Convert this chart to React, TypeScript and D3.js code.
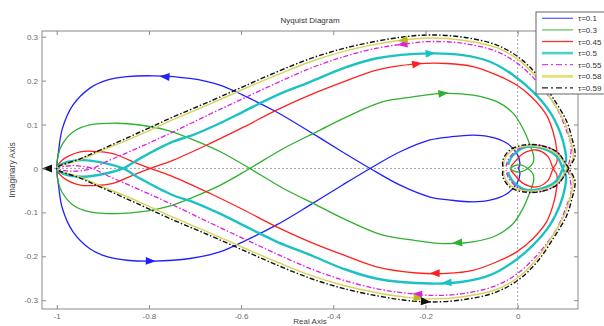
import React, { useRef, useEffect } from "react";
import * as d3 from "d3";

// legend labels / styles order
const tauLabels = ["τ=0.1", "τ=0.3", "τ=0.45", "τ=0.5", "τ=0.55", "τ=0.58", "τ=0.59"];

// one branch of every curve (the other branch is its mirror across the real axis)
const blueX = [-1, -0.996, -0.988, -0.965, -0.928, -0.891, -0.848, -0.79, -0.711, -0.646, -0.596, -0.522, -0.45, -0.379, -0.32, -0.255, -0.19, -0.146, -0.097, -0.06, -0.024, -0.002, 0.005, 0.002];
const blueY = [0, -0.04, -0.09, -0.144, -0.183, -0.201, -0.209, -0.211, -0.205, -0.19, -0.167, -0.128, -0.083, -0.037, 0, 0.038, 0.065, 0.072, 0.076, 0.072, 0.058, 0.035, 0.012, 0];

const greenX = [-1, -0.997, -0.989, -0.965, -0.928, -0.869, -0.819, -0.76, -0.71, -0.645, -0.581, -0.509, -0.435, -0.364, -0.292, -0.227, -0.162, -0.097, -0.045, -0.01, 0.011, 0.027, 0.035, 0.033, 0.022, 0.007, -0.008, -0.017];
const greenY = [0, -0.03, -0.053, -0.083, -0.099, -0.103, -0.099, -0.087, -0.068, -0.038, 0, 0.045, 0.084, 0.121, 0.152, 0.163, 0.171, 0.167, 0.152, 0.126, 0.092, 0.053, 0.026, 0.012, 0, -0.008, -0.006, 0];

const redX = [-1, -0.993, -0.977, -0.949, -0.921, -0.878, -0.834, -0.797, -0.747, -0.667, -0.595, -0.523, -0.451, -0.378, -0.306, -0.219, -0.154, -0.097, -0.046, -0.002, 0.033, 0.063, 0.077, 0.085, 0.085, 0.077, 0.066, 0.041, 0.012, -0.006, -0.015];
const redY = [0, -0.014, -0.027, -0.038, -0.039, -0.034, -0.015, 0, 0.019, 0.057, 0.094, 0.133, 0.167, 0.197, 0.224, 0.238, 0.239, 0.232, 0.213, 0.19, 0.16, 0.121, 0.083, 0.042, 0.014, 0, -0.027, -0.042, -0.034, -0.015, -0.004];

const cyanX = [-1, -0.993, -0.977, -0.943, -0.891, -0.856, -0.819, -0.748, -0.705, -0.646, -0.596, -0.522, -0.45, -0.379, -0.305, -0.19, -0.119, -0.06, -0.01, 0.033, 0.07, 0.092, 0.103, 0.105, 0.098, 0.085, 0.055, 0.02, -0.01, -0.021];
const cyanY = [0, -0.008, -0.015, -0.019, -0.011, 0, 0.023, 0.061, 0.076, 0.103, 0.129, 0.167, 0.197, 0.228, 0.251, 0.262, 0.258, 0.243, 0.213, 0.175, 0.129, 0.083, 0.042, 0.019, 0, -0.027, -0.045, -0.049, -0.03, -0.008];

const magentaX = [-1, -0.982, -0.954, -0.923, -0.891, -0.819, -0.748, -0.667, -0.596, -0.522, -0.45, -0.379, -0.305, -0.249, -0.19, -0.119, -0.045, 0.005, 0.048, 0.085, 0.107, 0.116, 0.113, 0.107, 0.092, 0.064, 0.027, -0.002, -0.021, -0.025];
const magentaY = [0, -0.005, -0.006, 0, 0.016, 0.049, 0.083, 0.124, 0.159, 0.195, 0.228, 0.254, 0.274, 0.283, 0.289, 0.285, 0.266, 0.235, 0.19, 0.137, 0.083, 0.053, 0.019, 0, -0.03, -0.049, -0.053, -0.042, -0.019, -0.004];

const yellowX = [-1, -0.949, -0.906, -0.819, -0.748, -0.667, -0.596, -0.522, -0.45, -0.379, -0.305, -0.244, -0.19, -0.119, -0.045, 0.005, 0.04, 0.074, 0.103, 0.114, 0.12, 0.12, 0.108, 0.095, 0.082, 0.046, 0.011, -0.015, -0.029, -0.03];
const yellowY = [0, 0.02, 0.039, 0.077, 0.111, 0.147, 0.18, 0.213, 0.243, 0.266, 0.283, 0.293, 0.297, 0.292, 0.275, 0.245, 0.208, 0.156, 0.103, 0.066, 0.04, 0.024, 0, -0.021, -0.036, -0.05, -0.05, -0.039, -0.018, -0.004];

const blackX = [-1, -0.949, -0.906, -0.819, -0.748, -0.667, -0.596, -0.522, -0.45, -0.379, -0.305, -0.244, -0.19, -0.119, -0.045, 0.005, 0.042, 0.077, 0.107, 0.118, 0.124, 0.124, 0.111, 0.098, 0.085, 0.048, 0.011, -0.017, -0.032, -0.032];
const blackY = [0, 0.022, 0.042, 0.083, 0.117, 0.153, 0.186, 0.22, 0.25, 0.273, 0.29, 0.3, 0.304, 0.299, 0.281, 0.251, 0.213, 0.16, 0.106, 0.068, 0.042, 0.026, 0, -0.022, -0.038, -0.053, -0.053, -0.042, -0.019, -0.004];

// arrow heads: which curve, where, and which way (+1 right, -1 left)
const arrowCurve = [0, 0, 1, 1, 2, 2, 3, 3, 4, 4, 5, 5, 6, 6];
const arrowX = [-0.765, -0.797, -0.162, -0.13, -0.219, -0.179, -0.19, -0.153, -0.249, -0.217, -0.249, -0.216, -0.2, -1.02];
const arrowY = [0.211, -0.209, 0.171, -0.171, 0.238, -0.243, 0.262, -0.262, 0.283, -0.285, 0.297, -0.297, -0.304, 0];
const arrowDir = [-1, 1, 1, -1, 1, -1, 1, -1, -1, -1, -1, 1, 1, -1];

const xTicks = [-1, -0.8, -0.6, -0.4, -0.2, 0];
const yTicks = [-0.3, -0.2, -0.1, 0, 0.1, 0.2, 0.3];

const branchesX = [blueX, greenX, redX, cyanX, magentaX, yellowX, blackX];
const branchesY = [blueY, greenY, redY, cyanY, magentaY, yellowY, blackY];

const colors = ["#2020ff", "#2fb02f", "#ff2020", "#1cc2c2", "#e020e0", "#d4d45a", "#111111"];
const widths = [1.3, 1.3, 1.3, 2.4, 1.3, 1.4, 1.4];
const dashes = [null, null, null, null, "5,2,1.5,2", null, "5,2,1.5,2"];
const legendWidths = [1.3, 1.3, 1.3, 2.6, 1.3, 3, 1.4];
const legendColors = ["#6060ff", "#5cc85c", "#ff3030", "#4cd0d0", "#e040e0", "#e2e27a", "#222"];

const FONT = "'Liberation Sans', Arial, sans-serif";

export default function App() {
  const svgRef = useRef<SVGSVGElement>(null);

  useEffect(() => {
    const svg = d3.select(svgRef.current);
    svg.selectAll("*").remove();

    const left = 42, right = 578, top = 31, bottom = 309;
    const x = d3.scaleLinear().domain([-1.032, 0.131]).range([left, right]);
    const y = d3.scaleLinear().domain([-0.32, 0.313]).range([bottom, top]);

    svg.append("rect").attr("width", 604).attr("height", 326).attr("fill", "#fff");

    svg.append("defs").append("clipPath").attr("id", "plotclip")
      .append("rect").attr("x", left).attr("y", top).attr("width", right - left).attr("height", bottom - top);

    // dotted zero lines
    svg.append("line").attr("x1", left).attr("x2", right).attr("y1", y(0)).attr("y2", y(0))
      .attr("stroke", "#8a8a8a").attr("stroke-width", 0.8).attr("stroke-dasharray", "2,2");
    svg.append("line").attr("x1", x(0)).attr("x2", x(0)).attr("y1", top).attr("y2", bottom)
      .attr("stroke", "#8a8a8a").attr("stroke-width", 0.8).attr("stroke-dasharray", "2,2");

    const line = d3.line<[number, number]>()
      .x((d) => x(d[0]))
      .y((d) => y(d[1]))
      .curve(d3.curveCatmullRom.alpha(0.5));

    // full curve = mirrored branch (reversed) + branch
    const curves = branchesX.map((bx, i) => {
      const by = branchesY[i];
      const up: [number, number][] = bx.map((v, j) => [v, by[j]]);
      const down: [number, number][] = bx.map((v, j) => [v, -by[j]]);
      return down.slice().reverse().concat(up.slice(1));
    });

    const g = svg.append("g").attr("clip-path", "url(#plotclip)");
    curves.forEach((pts, i) => {
      g.append("path")
        .attr("d", line(pts))
        .attr("fill", "none")
        .attr("stroke", colors[i])
        .attr("stroke-width", widths[i])
        .attr("stroke-dasharray", dashes[i])
        .attr("stroke-linejoin", "round");
    });

    // arrow heads, snapped onto the curve
    arrowX.forEach((ax, k) => {
      const ci = arrowCurve[k];
      const pts = curves[ci].map((p) => [x(p[0]), y(p[1])]);
      const px = x(ax), py = y(arrowY[k]);
      let best = Infinity, bx = px, by = py, tx = 1, ty = 0;
      for (let j = 0; j < pts.length - 1; j++) {
        const [x1, y1] = pts[j], [x2, y2] = pts[j + 1];
        const dx = x2 - x1, dy = y2 - y1;
        const len2 = dx * dx + dy * dy || 1;
        const t = Math.max(0, Math.min(1, ((px - x1) * dx + (py - y1) * dy) / len2));
        const qx = x1 + t * dx, qy = y1 + t * dy;
        const dd = (qx - px) ** 2 + (qy - py) ** 2;
        if (dd < best) { best = dd; bx = qx; by = qy; tx = dx; ty = dy; }
      }
      if (Math.abs(tx) < 0.3 * Math.abs(ty) || best > 16) { bx = px; by = py; tx = 1; ty = 0; }
      if (Math.sign(tx) !== arrowDir[k]) { tx = -tx; ty = -ty; }
      const ang = (Math.atan2(ty, tx) * 180) / Math.PI;
      g.append("path")
        .attr("d", "M5.5,0 L-4.5,-4 L-4.5,4 Z")
        .attr("transform", `translate(${bx},${by}) rotate(${ang})`)
        .attr("fill", colors[ci] === "#d4d45a" ? "#b8b820" : colors[ci])
        .attr("stroke", "none");
    });

    // axes box + inward ticks
    svg.append("rect").attr("x", left).attr("y", top).attr("width", right - left).attr("height", bottom - top)
      .attr("fill", "none").attr("stroke", "#8a8a8a").attr("stroke-width", 1);

    const styleAxis = (sel: any) => {
      sel.select(".domain").remove();
      sel.selectAll(".tick line").attr("stroke", "#8a8a8a");
      sel.selectAll("text").attr("fill", "#6a6a6a").attr("font-size", 8).attr("font-family", FONT);
    };
    const fmt = (d: any) => String(d);

    svg.append("g").attr("transform", `translate(0,${bottom})`)
      .call(d3.axisBottom(x).tickValues(xTicks).tickSize(-4).tickPadding(4).tickFormat(fmt))
      .call(styleAxis);
    svg.append("g").attr("transform", `translate(0,${top})`)
      .call(d3.axisTop(x).tickValues(xTicks).tickSize(-4).tickFormat(() => ""))
      .call(styleAxis);
    svg.append("g").attr("transform", `translate(${left},0)`)
      .call(d3.axisLeft(y).tickValues(yTicks).tickSize(-4).tickPadding(4).tickFormat(fmt))
      .call(styleAxis);
    svg.append("g").attr("transform", `translate(${right},0)`)
      .call(d3.axisRight(y).tickValues(yTicks).tickSize(-4).tickFormat(() => ""))
      .call(styleAxis);

    // titles
    svg.append("text").attr("x", 310).attr("y", 23).attr("text-anchor", "middle")
      .attr("font-size", 8).attr("font-family", FONT).attr("fill", "#333").text("Nyquist Diagram");
    svg.append("text").attr("transform", `translate(15,170) rotate(-90)`).attr("text-anchor", "middle")
      .attr("font-size", 8.5).attr("font-family", FONT).attr("fill", "#444").text("Imaginary Axis");
    svg.append("text").attr("x", 310).attr("y", 324).attr("text-anchor", "middle")
      .attr("font-size", 8).attr("font-family", FONT).attr("fill", "#444").text("Real Axis");

    // legend
    const lg = svg.append("g");
    lg.append("rect").attr("x", 536).attr("y", 12).attr("width", 80).attr("height", 82)
      .attr("fill", "#fff").attr("stroke", "#555").attr("stroke-width", 0.9);
    tauLabels.forEach((lab, i) => {
      const ly = 18.3 + i * 11.6;
      lg.append("line").attr("x1", 542).attr("x2", 573).attr("y1", ly).attr("y2", ly)
        .attr("stroke", legendColors[i]).attr("stroke-width", legendWidths[i])
        .attr("stroke-dasharray", dashes[i] ? "6,3,2,3" : null);
      lg.append("text").attr("x", 578).attr("y", ly + 3).attr("font-size", 8)
        .attr("font-family", FONT).attr("fill", "#333").text(lab);
    });
  }, []);

  return (
    <svg
      ref={svgRef}
      width={604}
      height={326}
      style={{ position: "absolute", left: 0, top: 0, display: "block" }}
    />
  );
}
